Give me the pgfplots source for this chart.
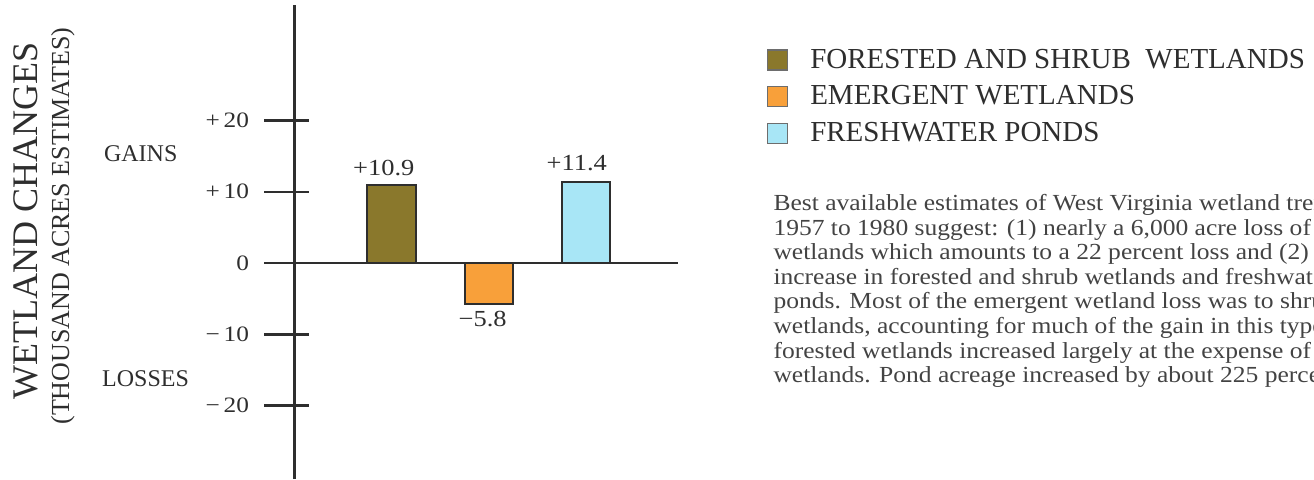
\documentclass[border=0pt]{standalone}
\usepackage{fontspec}
\setmainfont{Liberation Serif}
\newfontfamily\parfont[FakeStretch=1.11]{Liberation Serif}
\newfontfamily\numfont[FakeStretch=1.15]{Liberation Serif}
\usepackage{pgfplots}
\pgfplotsset{compat=1.18}

\definecolor{olivebar}{HTML}{8A782C}
\definecolor{orangebar}{HTML}{F8A03A}
\definecolor{cyanbar}{HTML}{A8E6F6}
\definecolor{ink}{HTML}{2E2E2E}

\begin{document}
\begin{tikzpicture}[every node/.style={text=ink}]
\begin{axis}[
    scale only axis,
    width=206.5pt, height=237pt,
    xmin=-0.304, xmax=3.954,
    ymin=-30.3, ymax=36.2,
    clip=false,
    axis x line=none,
    axis y line=middle,
    axis line style={-, ink, line width=1.2pt},
    ytick={-20,-10,0,10,20},
    yticklabels={−\,20,−\,10,0,+\,10,+\,20},
    yticklabel style={font=\numfont\fontsize{11}{11}\selectfont, text=ink, xshift=-8pt},
    tick align=center,
    major tick length=22.5pt,
    y tick style={ink, line width=1.2pt, xshift=-3.75pt},
    ybar, bar width=24pt, bar shift=0pt,
    legend style={at={(1.2,0.925)}, anchor=north west, draw=none, fill=none,
        font=\fontsize{14.5}{14.5}\selectfont, row sep=3.3pt,
        /tikz/every odd column/.style={column sep=9pt}},
    legend cell align=left,
    legend image code/.code={\draw[#1, draw=ink!70, line width=0.6pt] (0pt,-5pt) rectangle (10pt,5pt);},
]
\addplot[fill=olivebar, draw=ink, line width=1pt] coordinates {(1,10.9)};
\addlegendentry{FORESTED AND SHRUB\ \ WETLANDS}
\addplot[fill=orangebar, draw=ink, line width=1pt] coordinates {(2,-5.8)};
\addlegendentry{EMERGENT WETLANDS}
\addplot[fill=cyanbar, draw=ink, line width=1pt] coordinates {(3,11.4)};
\addlegendentry{FRESHWATER PONDS}

% zero line
\draw[ink, line width=1.2pt] (axis cs:-0.304,0) -- (axis cs:3.954,0);

% value labels
\node[font=\numfont\fontsize{11.5}{11.5}\selectfont, anchor=base] at (axis cs:0.92,12.35) {+10.9};
\node[font=\numfont\fontsize{11.5}{11.5}\selectfont, anchor=base] at (axis cs:1.94,-8.85) {−5.8};
\node[font=\numfont\fontsize{11.5}{11.5}\selectfont, anchor=base] at (axis cs:2.91,13.0) {+11.4};

% gains / losses
\node[font=\fontsize{12}{12}\selectfont] at (axis cs:-1.585,15.4) {GAINS};
\node[font=\fontsize{12}{12}\selectfont] at (axis cs:-1.535,-16.2) {LOSSES};

% axis titles
\node[rotate=90, font=\fontsize{18}{18}\selectfont] at (axis cs:-2.768,5.9) {WETLAND CHANGES};
\node[rotate=90, font=\fontsize{13}{13}\selectfont] at (axis cs:-2.387,5.2) {(THOUSAND ACRES ESTIMATES)};

\coordinate (TL) at (axis cs:-3.036,36.9);
\coordinate (BR) at (axis cs:10.510,-30.3);
\coordinate (P) at (axis cs:4.934,9.7);
\end{axis}

\begin{scope}
\clip (TL) rectangle (BR);
\node[anchor=north west, inner sep=0pt, align=left, text=ink!90,
      font=\parfont\fontsize{11.5}{12.3}\selectfont] at (P) {%
Best available estimates of West Virginia wetland trends from\\
1957 to 1980 suggest: (1) nearly a 6,000 acre loss of emergent\\
wetlands which amounts to a 22 percent loss and (2) an\\
increase in forested and shrub wetlands and freshwater\\
ponds. Most of the emergent wetland loss was to shrub\\
wetlands, accounting for much of the gain in this type;\\
forested wetlands increased largely at the expense of shrub\\
wetlands. Pond acreage increased by about 225 percent.};
\end{scope}
\pgfresetboundingbox
\path (TL) rectangle (BR);
\end{tikzpicture}
\end{document}
